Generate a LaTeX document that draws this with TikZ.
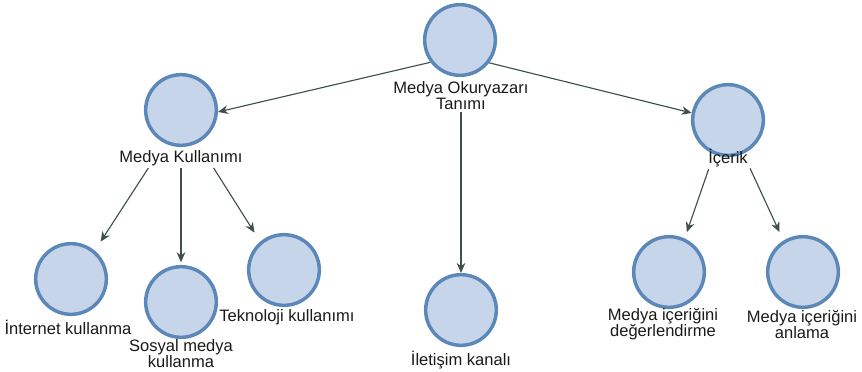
\documentclass[tikz,border=0pt]{standalone}
\usepackage{fontspec}
\setmainfont{Liberation Sans}
\usetikzlibrary{arrows.meta}
\definecolor{ringblue}{HTML}{5B87B9}
\definecolor{discfill}{HTML}{C6D5EA}
\definecolor{linkgray}{HTML}{3E504C}
\definecolor{labeltext}{HTML}{1A1A1A}
\begin{document}
\begin{tikzpicture}[x=0.75pt,y=-0.75pt,
  disc/.style={circle,draw=ringblue,fill=discfill,line width=2.6pt,minimum size=53pt,inner sep=0pt},
  lbl/.style={font=\fontsize{12.4pt}{12pt}\selectfont,text=labeltext,align=center,inner sep=1.5pt},
  link/.style={draw=linkgray,line width=0.85pt,-{Stealth[length=7.5pt,width=6.5pt,inset=2.4pt]}}]
  \useasboundingbox (0,0) rectangle (862,371);

  % concept discs
  \node[disc] (root) at (460,40) {};
  \node[disc] (use)  at (181,110) {};
  \node[disc] (cont) at (728,120) {};
  \node[disc] (net)  at (71,279) {};
  \node[disc] (soc)  at (181,302) {};
  \node[disc] (tech) at (284,270) {};
  \node[disc] (chan) at (461,310) {};
  \node[disc] (eval) at (669,272) {};
  \node[disc] (read) at (803,272) {};

  % captions
  \node[lbl] (rootl) at (461,95.5) {Medya Okuryazarı\\Tanımı};
  \node[lbl] (usel)  at (181,158) {Medya Kullanımı};
  \node[lbl] (contl) at (728,158) {İçerik};
  \node[lbl] (netl)  at (68,327) {İnternet kullanma};
  \node[lbl] (socl)  at (181,353.5) {Sosyal medya\\kullanma};
  \node[lbl] (techl) at (287,317) {Teknoloji kullanımı};
  \node[lbl] (chanl) at (461,360) {İletişim kanalı};
  \node[lbl] (evall) at (663,324.5) {Medya içeriğini\\değerlendirme};
  \node[lbl] (readl) at (802,324.5) {Medya içeriğini\\anlama};

  % connectors
  \draw[link] (root.217) -- (use.357);
  \draw[link] (root.322) -- (cont.169);
  \draw[link] (rootl.south) -- (chan.north);
  \draw[link,shorten >=8pt] (usel.197) -- (net.50);
  \draw[link,shorten >=2pt] (usel.south) -- (soc.north);
  \draw[link,shorten >=8pt] (usel.343) -- (tech.130);
  \draw[link,shorten >=5pt] (contl.210) -- (eval.65);
  \draw[link,shorten >=7pt] (contl.335) -- (read.122);
\end{tikzpicture}
\end{document}
